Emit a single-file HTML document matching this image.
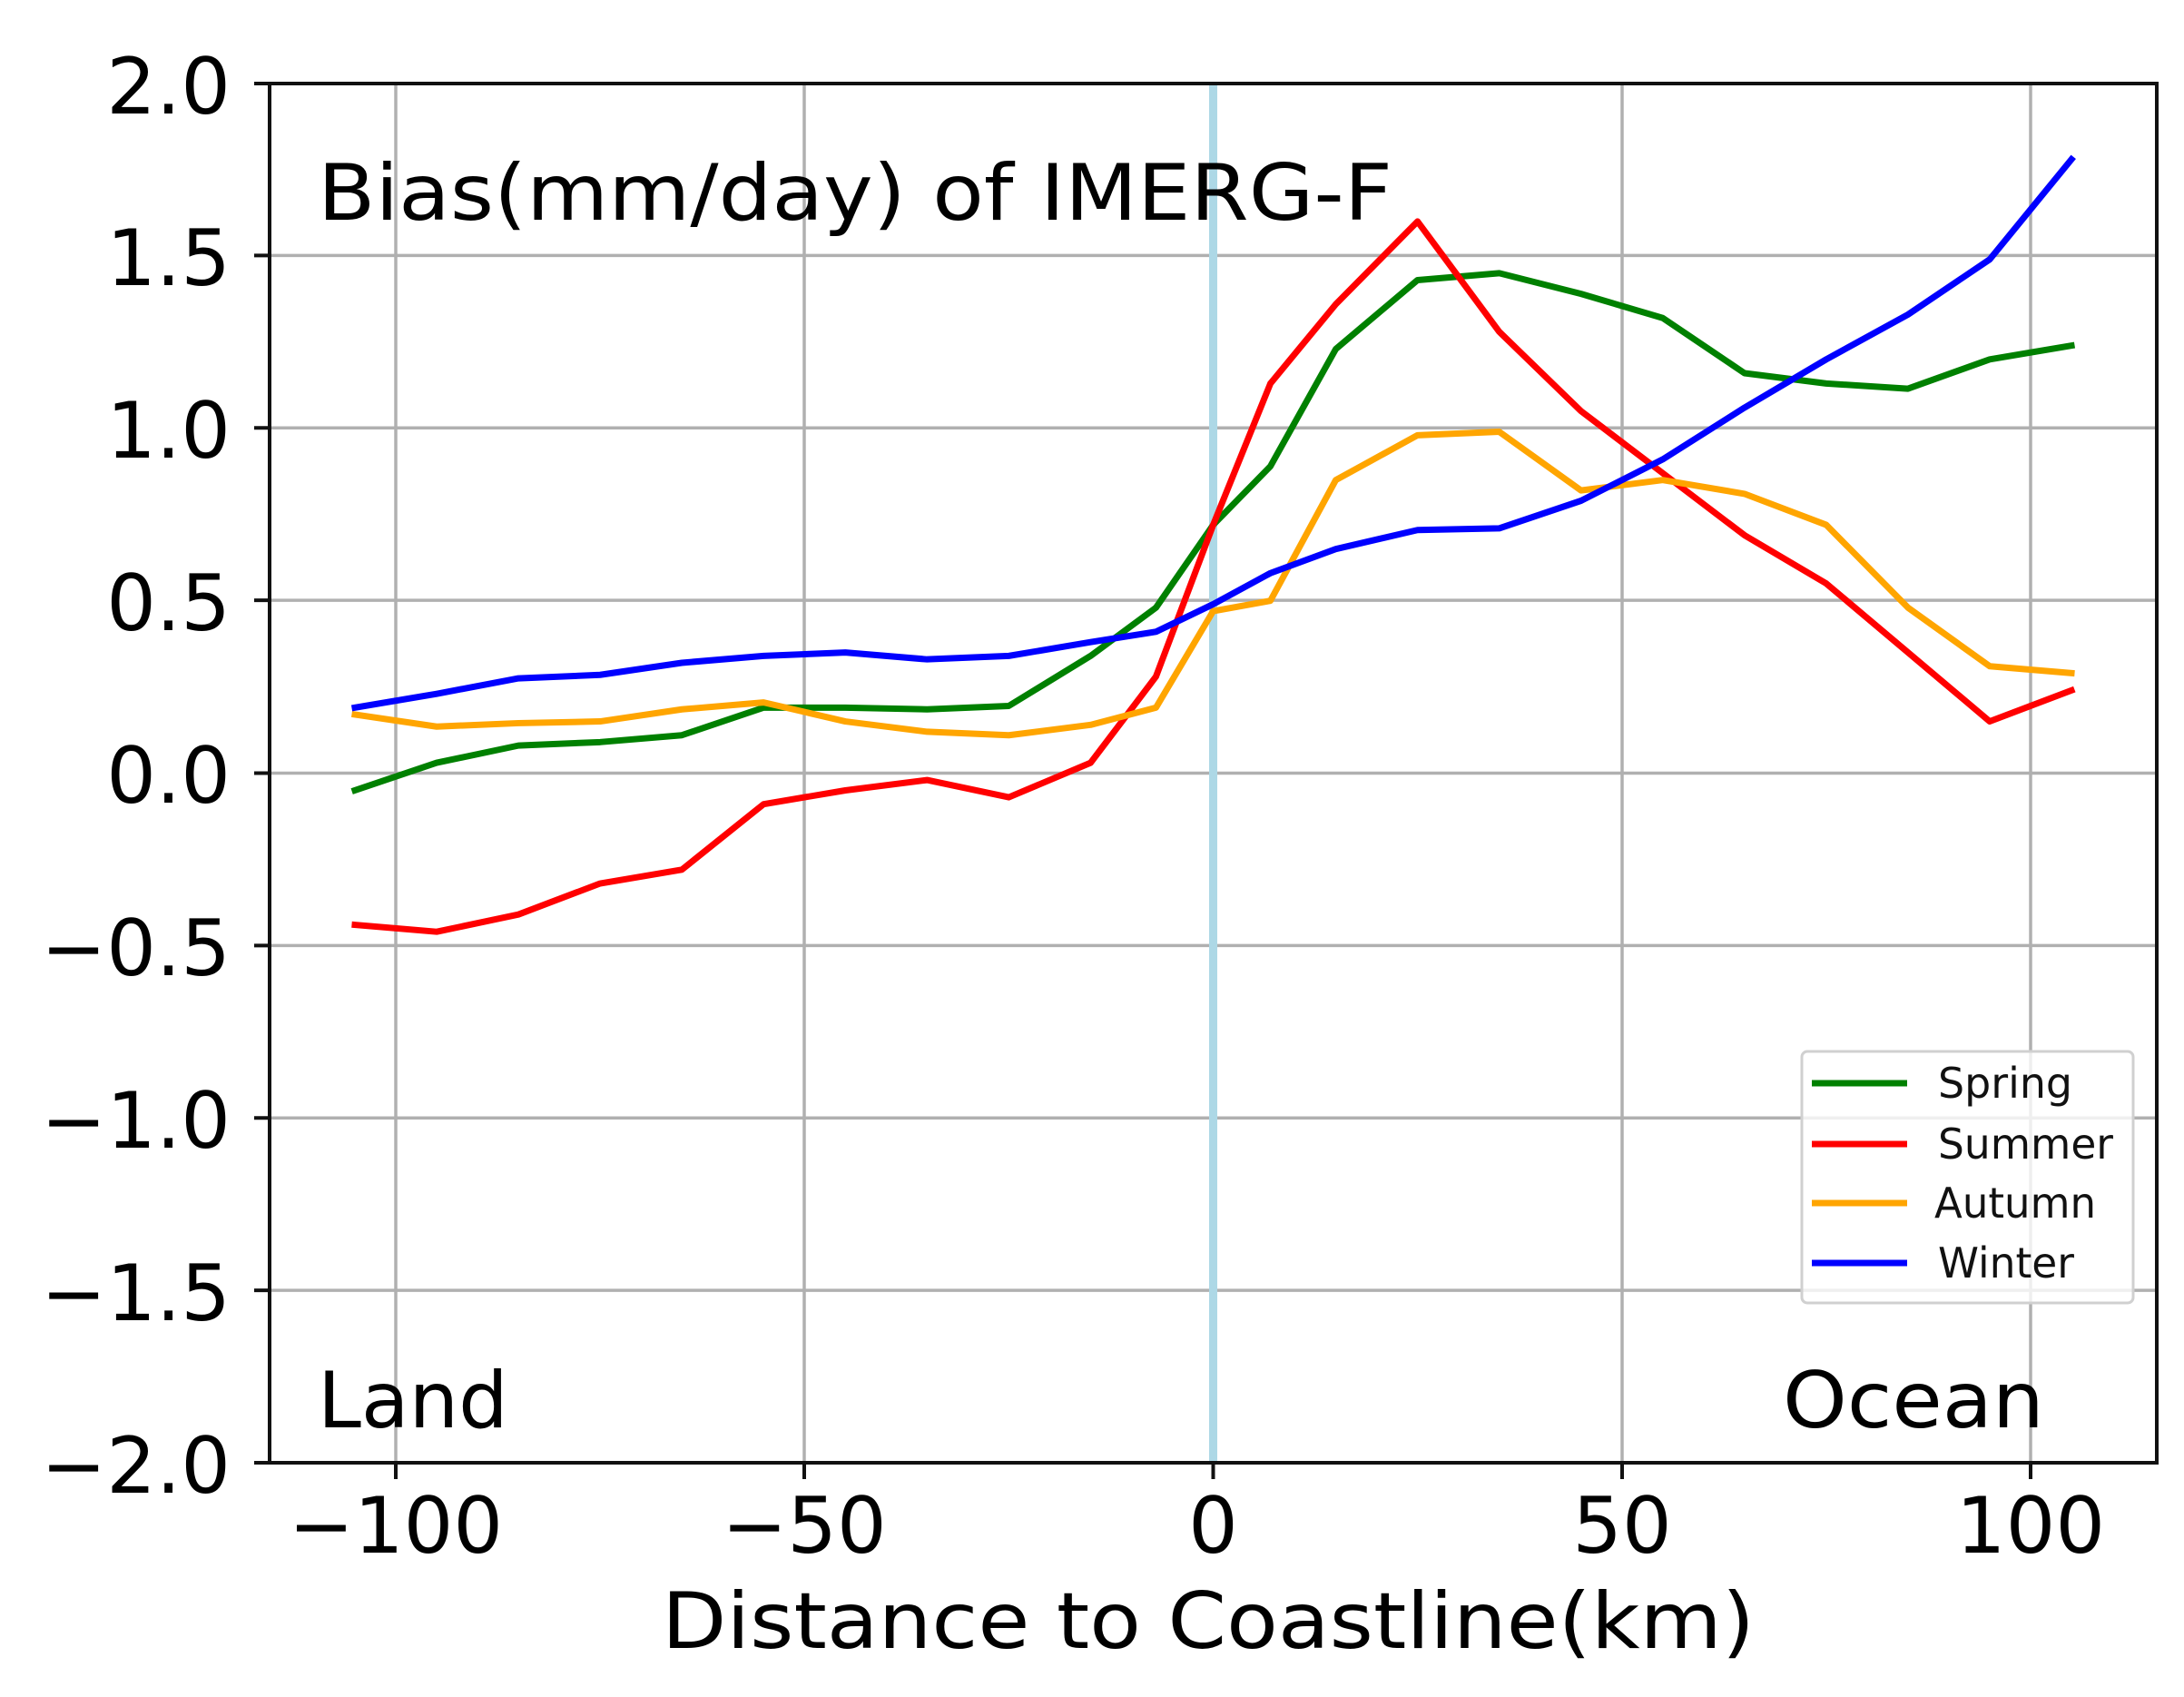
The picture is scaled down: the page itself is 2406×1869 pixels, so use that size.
<!DOCTYPE html>
<html><head><meta charset="utf-8"><style>html,body{margin:0;padding:0;background:#fff}svg{display:block}</style></head>
<body>
<svg width="2406" height="1869" viewBox="0 0 2406 1869" xmlns="http://www.w3.org/2000/svg" font-family="'DejaVu Sans','Liberation Sans',sans-serif">
<rect width="2406" height="1869" fill="#fff"/>
<g stroke="#b0b0b0" stroke-width="3.5">
<line x1="436" y1="92" x2="436" y2="1611"/><line x1="886" y1="92" x2="886" y2="1611"/><line x1="1336.5" y1="92" x2="1336.5" y2="1611"/><line x1="1787" y1="92" x2="1787" y2="1611"/><line x1="2237" y1="92" x2="2237" y2="1611"/>
<line x1="297" y1="281.4" x2="2376" y2="281.4"/><line x1="297" y1="471.3" x2="2376" y2="471.3"/><line x1="297" y1="661.1" x2="2376" y2="661.1"/><line x1="297" y1="851.5" x2="2376" y2="851.5"/><line x1="297" y1="1041.4" x2="2376" y2="1041.4"/><line x1="297" y1="1231.3" x2="2376" y2="1231.3"/><line x1="297" y1="1421.1" x2="2376" y2="1421.1"/>
</g>
<line x1="1336.5" y1="92" x2="1336.5" y2="1611" stroke="#add8e6" stroke-width="9"/>
<g transform="translate(1336.5,851.5) scale(9.005,-379.75)" fill="none" stroke-width="7" stroke-linejoin="round" stroke-linecap="square">
<polyline vector-effect="non-scaling-stroke" stroke="#008000" points="-105,-0.05 -95,0.03 -85,0.08 -75,0.09 -65,0.11 -55,0.19 -45,0.19 -35,0.185 -25,0.195 -15,0.34 -7,0.48 0,0.72 7,0.89 15,1.23 25,1.43 35,1.45 45,1.39 55,1.32 65,1.16 75,1.13 85,1.115 95,1.2 105,1.24"/>
<polyline vector-effect="non-scaling-stroke" stroke="#ff0000" points="-105,-0.44 -95,-0.46 -85,-0.41 -75,-0.32 -65,-0.28 -55,-0.09 -45,-0.05 -35,-0.02 -25,-0.07 -15,0.03 -7,0.28 0,0.72 7,1.13 15,1.36 25,1.60 35,1.28 45,1.05 55,0.87 65,0.69 75,0.55 85,0.35 95,0.15 105,0.24"/>
<polyline vector-effect="non-scaling-stroke" stroke="#ffa500" points="-105,0.17 -95,0.135 -85,0.145 -75,0.15 -65,0.185 -55,0.205 -45,0.15 -35,0.12 -25,0.11 -15,0.14 -7,0.19 0,0.47 7,0.50 15,0.85 25,0.98 35,0.99 45,0.82 55,0.85 65,0.81 75,0.72 85,0.48 95,0.31 105,0.29"/>
<polyline vector-effect="non-scaling-stroke" stroke="#0000ff" points="-105,0.19 -95,0.23 -85,0.275 -75,0.285 -65,0.32 -55,0.34 -45,0.35 -35,0.33 -25,0.34 -15,0.38 -7,0.41 0,0.49 7,0.58 15,0.65 25,0.705 35,0.71 45,0.79 55,0.91 65,1.06 75,1.20 85,1.33 95,1.49 105,1.78"/>
</g>
<rect x="297" y="92" width="2079" height="1519" fill="none" stroke="#111" stroke-width="4"/>
<g stroke="#111" stroke-width="4">
<line x1="280" y1="92" x2="297" y2="92"/><line x1="280" y1="281.4" x2="297" y2="281.4"/><line x1="280" y1="471.3" x2="297" y2="471.3"/><line x1="280" y1="661.1" x2="297" y2="661.1"/><line x1="280" y1="851.5" x2="297" y2="851.5"/><line x1="280" y1="1041.4" x2="297" y2="1041.4"/><line x1="280" y1="1231.3" x2="297" y2="1231.3"/><line x1="280" y1="1421.1" x2="297" y2="1421.1"/><line x1="280" y1="1611" x2="297" y2="1611"/>
<line x1="436" y1="1611" x2="436" y2="1629"/><line x1="886" y1="1611" x2="886" y2="1629"/><line x1="1336.5" y1="1611" x2="1336.5" y2="1629"/><line x1="1787" y1="1611" x2="1787" y2="1629"/><line x1="2237" y1="1611" x2="2237" y2="1629"/>
</g>
<g font-size="86" fill="#000" text-anchor="end">
<text x="254" y="125">2.0</text><text x="254" y="314">1.5</text><text x="254" y="504">1.0</text><text x="254" y="694">0.5</text><text x="254" y="884">0.0</text><text x="254" y="1074">−0.5</text><text x="254" y="1264">−1.0</text><text x="254" y="1454">−1.5</text><text x="254" y="1644">−2.0</text>
</g>
<g font-size="86" fill="#000" text-anchor="middle">
<text x="436" y="1710">−100</text><text x="886" y="1710">−50</text><text x="1336.5" y="1710">0</text><text x="1787" y="1710">50</text><text x="2237" y="1710">100</text>
</g>
<text x="729" y="1815" font-size="86" textLength="1204" lengthAdjust="spacingAndGlyphs">Distance to Coastline(km)</text>
<text x="350" y="242" font-size="86" textLength="1184" lengthAdjust="spacingAndGlyphs">Bias(mm/day) of IMERG-F</text>
<text x="350" y="1572" font-size="86">Land</text>
<text x="1964" y="1572" font-size="86" textLength="288" lengthAdjust="spacingAndGlyphs">Ocean</text>
<rect x="1985" y="1158" width="365" height="277" rx="6" fill="#fff" fill-opacity="0.8" stroke="#d0d0d0" stroke-width="3"/>
<g stroke-width="7">
<line x1="1996" y1="1193" x2="2101" y2="1193" stroke="#008000"/>
<line x1="1996" y1="1260" x2="2101" y2="1260" stroke="#ff0000"/>
<line x1="1996" y1="1325" x2="2101" y2="1325" stroke="#ffa500"/>
<line x1="1996" y1="1391" x2="2101" y2="1391" stroke="#0000ff"/>
</g>
<g font-size="46" fill="#111">
<text x="2135" y="1209" textLength="148" lengthAdjust="spacingAndGlyphs">Spring</text><text x="2135" y="1276" textLength="193" lengthAdjust="spacingAndGlyphs">Summer</text><text x="2131" y="1341" textLength="178" lengthAdjust="spacingAndGlyphs">Autumn</text><text x="2135" y="1407" textLength="150" lengthAdjust="spacingAndGlyphs">Winter</text>
</g>
</svg>
</body></html>
